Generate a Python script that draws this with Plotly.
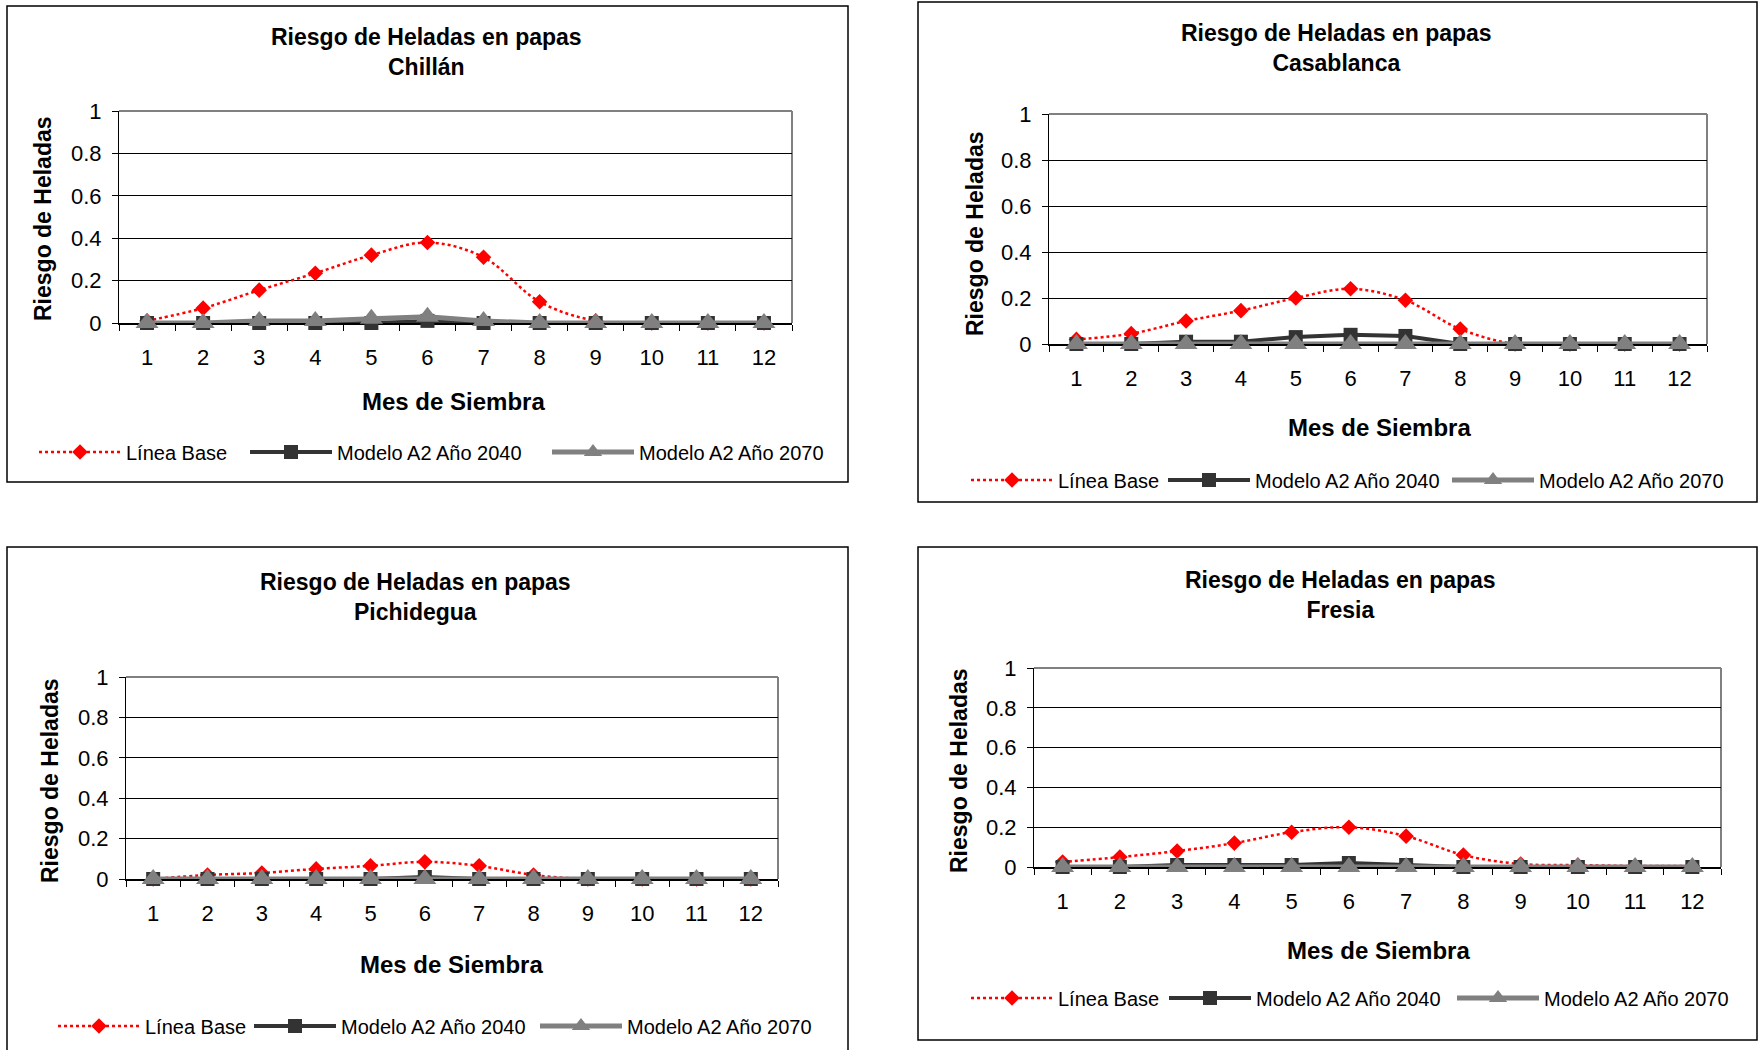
import plotly.graph_objects as go

W, H = 1758, 1050
months = list(range(1, 13))
month_labels = [str(m) for m in months]
y_ticks = [0, 0.2, 0.4, 0.6, 0.8, 1]
y_labels = ["0", "0.2", "0.4", "0.6", "0.8", "1"]

series_names = ["Línea Base", "Modelo A2 Año 2040", "Modelo A2 Año 2070"]

chillan_base = [0.01, 0.07, 0.155, 0.235, 0.32, 0.38, 0.31, 0.10, 0.01, 0.0, 0.0, 0.0]
chillan_2040 = [0.0, 0.0, 0.0, 0.0, 0.0, 0.01, 0.0, 0.0, 0.0, 0.0, 0.0, 0.0]
chillan_2070 = [0.0, 0.0, 0.01, 0.01, 0.02, 0.03, 0.01, 0.0, 0.0, 0.0, 0.0, 0.0]

casablanca_base = [0.02, 0.045, 0.10, 0.145, 0.20, 0.24, 0.19, 0.065, 0.0, 0.0, 0.0, 0.0]
casablanca_2040 = [0.0, 0.0, 0.01, 0.01, 0.03, 0.04, 0.035, 0.0, 0.0, 0.0, 0.0, 0.0]
casablanca_2070 = [0.0, 0.0, 0.0, 0.0, 0.0, 0.0, 0.0, 0.0, 0.0, 0.0, 0.0, 0.0]

pichidegua_base = [0.0, 0.02, 0.03, 0.05, 0.065, 0.085, 0.065, 0.02, 0.0, 0.0, 0.0, 0.0]
pichidegua_2040 = [0.0, 0.0, 0.0, 0.0, 0.0, 0.01, 0.0, 0.0, 0.0, 0.0, 0.0, 0.0]
pichidegua_2070 = [0.0, 0.0, 0.0, 0.0, 0.0, 0.0, 0.0, 0.0, 0.0, 0.0, 0.0, 0.0]

fresia_base = [0.025, 0.05, 0.08, 0.12, 0.175, 0.20, 0.155, 0.06, 0.015, 0.01, 0.005, 0.005]
fresia_2040 = [0.0, 0.0, 0.01, 0.01, 0.01, 0.02, 0.01, 0.0, 0.0, 0.0, 0.0, 0.0]
fresia_2070 = [0.0, 0.0, 0.0, 0.0, 0.0, 0.0, 0.0, 0.0, 0.0, 0.0, 0.0, 0.0]

stations = ["Chillán", "Casablanca", "Pichidegua", "Fresia"]
data = [
    (chillan_base, chillan_2040, chillan_2070),
    (casablanca_base, casablanca_2040, casablanca_2070),
    (pichidegua_base, pichidegua_2040, pichidegua_2070),
    (fresia_base, fresia_2040, fresia_2070),
]

# layout in pixels: frame box, plot area, title center, x-title, y-title, legend text starts + y
panels = [
    dict(frame=(7, 6, 848, 482), plot=(119, 111, 792, 323), title=(426, 52),
         xt=(454, 402), yt=(43, 219), leg=([126, 337, 639], 452)),
    dict(frame=(918, 2, 1757, 502), plot=(1049, 114, 1707, 344), title=(1336, 48),
         xt=(1379, 427), yt=(975, 234), leg=([1058, 1255, 1539], 480)),
    dict(frame=(7, 547, 848, 1060), plot=(126, 677, 778, 879), title=(415, 597),
         xt=(452, 964), yt=(50, 781), leg=([145, 341, 627], 1026)),
    dict(frame=(918, 547, 1757, 1040), plot=(1034, 668, 1721, 867), title=(1340, 595),
         xt=(1378, 950), yt=(959, 771), leg=([1058, 1256, 1544], 998)),
]

FONT = "Liberation Sans, Arial, sans-serif"
ITEMW = 82

def px(x):
    return x / W

def py(y):
    return 1 - y / H

fig = go.Figure()
shapes = []
annotations = []
layout_extra = {}

leg_idx = 0
for i, (name, series, p) in enumerate(zip(stations, data, panels)):
    n = i + 1
    xa = "x" if n == 1 else f"x{n}"
    ya = "y" if n == 1 else f"y{n}"
    styles = [
        dict(line=dict(color="#ff0000", width=2.5, dash="dot", shape="spline"),
             marker=dict(symbol="diamond", size=12, color="#ff0000")),
        dict(line=dict(color="#333333", width=4),
             marker=dict(symbol="square", size=14, color="#333333")),
        dict(line=dict(color="#808080", width=5),
             marker=dict(symbol="triangle-up", size=20, color="#808080")),
    ]
    text_starts, ly = p["leg"]
    for k in range(3):
        leg_idx += 1
        leg = "legend" if leg_idx == 1 else f"legend{leg_idx}"
        fig.add_trace(go.Scatter(
            x=months, y=series[k], xaxis=xa, yaxis=ya, name=series_names[k], legend=leg,
            mode="lines+markers", cliponaxis=False, **styles[k]))
        layout_extra[leg] = dict(
            x=px(text_starts[k] - (ITEMW + 10)), y=py(ly), xanchor="left", yanchor="middle",
            orientation="h", bgcolor="rgba(0,0,0,0)", borderwidth=0,
            font=dict(family=FONT, size=20, color="black"), itemwidth=ITEMW)

    x0, y0, x1, y1 = p["plot"]
    axkey = "xaxis" if n == 1 else f"xaxis{n}"
    aykey = "yaxis" if n == 1 else f"yaxis{n}"
    layout_extra[axkey] = dict(
        domain=[px(x0), px(x1)], anchor=ya, range=[0.5, 12.5], automargin=False,
        tickvals=months, ticktext=month_labels, ticks="outside", ticklen=14,
        tickcolor="rgba(0,0,0,0)",
        minor=dict(tickvals=[k + 0.5 for k in range(13)], ticks="outside", ticklen=6,
                   tickcolor="black", tickwidth=1, showgrid=False),
        showline=True, linecolor="black", linewidth=2, mirror=False, layer="below traces",
        showgrid=False, zeroline=False, fixedrange=True,
        tickfont=dict(family=FONT, size=22, color="black"))
    layout_extra[aykey] = dict(
        domain=[py(y1), py(y0)], anchor=xa, range=[0, 1], automargin=False,
        tickvals=y_ticks, ticktext=y_labels, ticks="outside", ticklen=6,
        tickcolor="black", ticklabelstandoff=6, showline=True, linecolor="black", linewidth=1,
        layer="below traces",
        showgrid=True, gridcolor="black", gridwidth=1, zeroline=False, fixedrange=True,
        tickfont=dict(family=FONT, size=22, color="black"))

    # gray border of plot area (top/right)
    shapes.append(dict(type="line", xref="paper", yref="paper", layer="below",
                       x0=px(x0), x1=px(x1), y0=py(y0), y1=py(y0),
                       line=dict(color="#808080", width=2)))
    shapes.append(dict(type="line", xref="paper", yref="paper", layer="below",
                       x0=px(x1), x1=px(x1), y0=py(y0), y1=py(y1),
                       line=dict(color="#808080", width=2)))
    # frame around each chart
    fx0, fy0, fx1, fy1 = p["frame"]
    shapes.append(dict(type="rect", xref="paper", yref="paper",
                       x0=px(fx0), x1=px(fx1), y0=py(fy0), y1=py(fy1),
                       line=dict(color="black", width=1.5)))

    tx, ty = p["title"]
    annotations.append(dict(
        text=f"<b>Riesgo de Heladas en papas</b><br><b>{name}</b>",
        x=px(tx), y=py(ty), xref="paper", yref="paper", showarrow=False,
        xanchor="center", yanchor="middle",
        font=dict(family=FONT, size=23, color="black")))
    xtx, xty = p["xt"]
    annotations.append(dict(
        text="<b>Mes de Siembra</b>", x=px(xtx), y=py(xty), xref="paper", yref="paper",
        showarrow=False, xanchor="center", yanchor="middle",
        font=dict(family=FONT, size=24, color="black")))
    ytx, yty = p["yt"]
    annotations.append(dict(
        text="<b>Riesgo de Heladas</b>", x=px(ytx), y=py(yty), xref="paper", yref="paper",
        showarrow=False, xanchor="center", yanchor="middle", textangle=-90,
        font=dict(family=FONT, size=23, color="black")))

fig.update_layout(
    width=W, height=H, margin=dict(l=0, r=0, t=0, b=0, autoexpand=False),
    paper_bgcolor="white", plot_bgcolor="white",
    showlegend=True, shapes=shapes, annotations=annotations,
    **layout_extra)

fix_js = (
    "document.documentElement.style.margin='0';"
    "document.body.style.margin='0';"
    "document.body.style.overflow='hidden';"
    "document.documentElement.style.overflow='hidden';"
    "var gd=document.querySelector('.plotly-graph-div');"
    "gd.style.position='fixed';gd.style.left='0px';gd.style.top='0px';"
)

fig.write_html("out.html", config={"displayModeBar": False}, post_script=fix_js)
